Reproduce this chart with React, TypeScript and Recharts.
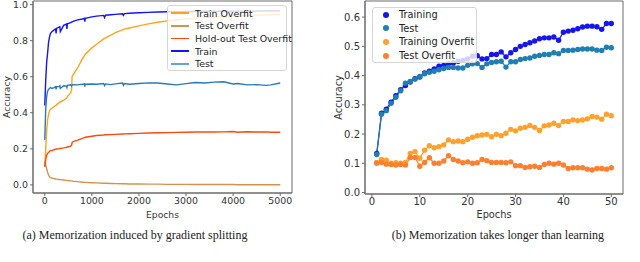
import { LineChart, Line, XAxis, YAxis, ReferenceArea, Legend } from 'recharts'

// (a) gradient splitting — sampled epochs, dips kept where the train/test curves spike
const EPOCHS_A = [
  0, 20, 40, 60, 80, 100, 120, 150, 200, 230, 240, 250, 300, 320, 330, 400, 460, 470, 480, 550,
  570, 580, 600, 700, 800, 840, 850, 860, 1000, 1100, 1250, 1270, 1290, 1400, 1500, 1650, 1670, 1690, 1800, 2000,
  2200, 2400, 2600, 2800, 3000, 3200, 3400, 3600, 3800, 4000, 4100, 4300, 4500, 4700, 4800, 5000,
]
const TRAIN_OVERFIT_A = [
  0.10, 0.20, 0.30, 0.36, 0.39, 0.41, 0.42, 0.425, 0.435, 0.44, 0.44, 0.445, 0.455, 0.46, 0.46, 0.47, 0.48, 0.485, 0.49, 0.51,
  0.53, 0.60, 0.61, 0.65, 0.70, 0.715, 0.72, 0.725, 0.76, 0.78, 0.81, 0.813, 0.816, 0.83, 0.845, 0.86, 0.862, 0.864, 0.87, 0.882,
  0.893, 0.902, 0.91, 0.916, 0.921, 0.925, 0.928, 0.931, 0.934, 0.937, 0.938, 0.94, 0.942, 0.943, 0.944, 0.945,
]
const TEST_OVERFIT_A = [
  0.13, 0.11, 0.09, 0.07, 0.055, 0.045, 0.04, 0.038, 0.035, 0.033, 0.033, 0.032, 0.03, 0.029, 0.029, 0.027, 0.025, 0.025, 0.024, 0.022,
  0.022, 0.021, 0.02, 0.018, 0.015, 0.014, 0.014, 0.014, 0.012, 0.011, 0.009, 0.009, 0.009, 0.008, 0.007, 0.006, 0.006, 0.006, 0.005, 0.005,
  0.004, 0.004, 0.003, 0.003, 0.003, 0.002, 0.002, 0.002, 0.002, 0.002, 0.001, 0.001, 0.001, 0.001, 0.001, 0.001,
]
const HOLDOUT_A = [
  0.10, 0.14, 0.165, 0.175, 0.18, 0.185, 0.19, 0.19, 0.195, 0.198, 0.198, 0.2, 0.2, 0.202, 0.202, 0.205, 0.208, 0.21, 0.21, 0.215,
  0.22, 0.235, 0.24, 0.248, 0.258, 0.262, 0.263, 0.264, 0.27, 0.274, 0.277, 0.278, 0.278, 0.279, 0.28, 0.282, 0.282, 0.283, 0.284, 0.286,
  0.288, 0.289, 0.29, 0.291, 0.292, 0.293, 0.294, 0.293, 0.294, 0.296, 0.292, 0.295, 0.293, 0.294, 0.292, 0.292,
]
const TRAIN_A = [
  0.44, 0.58, 0.68, 0.73, 0.79, 0.82, 0.84, 0.85, 0.86, 0.865, 0.84, 0.868, 0.875, 0.877, 0.85, 0.885, 0.892, 0.865, 0.894, 0.90,
  0.902, 0.905, 0.907, 0.915, 0.92, 0.923, 0.905, 0.924, 0.932, 0.936, 0.94, 0.928, 0.941, 0.944, 0.946, 0.949, 0.94, 0.95, 0.952, 0.955,
  0.957, 0.959, 0.96, 0.961, 0.962, 0.962, 0.963, 0.963, 0.963, 0.964, 0.964, 0.964, 0.964, 0.965, 0.965, 0.965,
]
const TEST_A = [
  0.25, 0.42, 0.49, 0.52, 0.53, 0.535, 0.54, 0.535, 0.54, 0.545, 0.53, 0.545, 0.545, 0.55, 0.535, 0.55, 0.548, 0.54, 0.552, 0.555,
  0.548, 0.555, 0.556, 0.555, 0.558, 0.56, 0.545, 0.558, 0.56, 0.558, 0.562, 0.55, 0.56, 0.556, 0.56, 0.565, 0.552, 0.562, 0.558, 0.562,
  0.566, 0.565, 0.56, 0.555, 0.562, 0.568, 0.565, 0.57, 0.572, 0.56, 0.562, 0.555, 0.556, 0.552, 0.555, 0.565,
]

// (b) memorization vs learning, one point per epoch
const EPOCHS_B = [
  1, 2, 3, 4, 5, 6, 7, 8, 9, 10, 11, 12, 13, 14, 15, 16, 17, 18, 19, 20, 21, 22, 23, 24, 25,
  26, 27, 28, 29, 30, 31, 32, 33, 34, 35, 36, 37, 38, 39, 40, 41, 42, 43, 44, 45, 46, 47, 48, 49, 50,
]
const TRAINING_B = [
  0.134, 0.271, 0.285, 0.309, 0.331, 0.352, 0.366, 0.378, 0.389, 0.395, 0.409, 0.415, 0.423, 0.432, 0.435, 0.441, 0.443, 0.449, 0.452, 0.457, 0.466, 0.468, 0.457, 0.458, 0.472,
  0.472, 0.481, 0.464, 0.478, 0.489, 0.5, 0.506, 0.512, 0.518, 0.526, 0.529, 0.529, 0.532, 0.521, 0.548, 0.552, 0.555, 0.56, 0.566, 0.569, 0.569, 0.567, 0.558, 0.578, 0.578,
]
const TEST_B = [
  0.13, 0.268, 0.28, 0.305, 0.326, 0.348, 0.374, 0.38, 0.388, 0.397, 0.406, 0.411, 0.415, 0.42, 0.424, 0.428, 0.428, 0.426, 0.426, 0.435, 0.44, 0.441, 0.428, 0.44, 0.445,
  0.447, 0.449, 0.429, 0.447, 0.447, 0.455, 0.458, 0.46, 0.466, 0.469, 0.472, 0.472, 0.478, 0.475, 0.486, 0.486, 0.487, 0.489, 0.491, 0.491, 0.491, 0.487, 0.486, 0.497, 0.495,
]
const TRAINING_OVERFIT_B = [
  0.103, 0.113, 0.111, 0.1, 0.102, 0.1, 0.103, 0.134, 0.14, 0.117, 0.145, 0.16, 0.153, 0.157, 0.163, 0.18, 0.174, 0.176, 0.174, 0.182, 0.189, 0.194, 0.197, 0.199, 0.191,
  0.199, 0.194, 0.203, 0.216, 0.211, 0.22, 0.223, 0.229, 0.223, 0.212, 0.228, 0.231, 0.237, 0.229, 0.243, 0.243, 0.248, 0.246, 0.248, 0.252, 0.26, 0.258, 0.251, 0.268, 0.263,
]
const TEST_OVERFIT_B = [
  0.1, 0.103, 0.097, 0.096, 0.094, 0.096, 0.094, 0.12, 0.12, 0.09, 0.103, 0.119, 0.1, 0.1, 0.108, 0.126, 0.113, 0.108, 0.102, 0.105, 0.1, 0.102, 0.113, 0.109, 0.103,
  0.103, 0.103, 0.102, 0.105, 0.092, 0.092, 0.086, 0.088, 0.09, 0.086, 0.096, 0.1, 0.097, 0.1, 0.094, 0.082, 0.085, 0.085, 0.085, 0.08, 0.077, 0.082, 0.082, 0.08, 0.085,
]

const X_TICKS_A = [0, 1000, 2000, 3000, 4000, 5000]
const Y_TICKS_A = [0, 0.2, 0.4, 0.6, 0.8, 1.0]
const X_TICKS_B = [0, 10, 20, 30, 40, 50]
const Y_TICKS_B = [0, 0.1, 0.2, 0.3, 0.4, 0.5, 0.6]

const LEGEND_A = [
  { key: 'trainOverfit', name: 'Train Overfit', color: '#ffa31a', swatch: '#ffa31a' },
  { key: 'testOverfit', name: 'Test Overfit', color: '#d6914f', swatch: '#d6914f' },
  { key: 'holdout', name: 'Hold-out Test Overfit', color: '#ff4a0a', swatch: '#ff4a0a' },
  { key: 'train', name: 'Train', color: '#1414f5', swatch: '#1414f5' },
  { key: 'test', name: 'Test', color: '#2a7ab8', swatch: '#64a3d8' },
]
const LEGEND_B = [
  { key: 'training', name: 'Training', color: '#1515f0' },
  { key: 'test', name: 'Test', color: '#1f7fb2' },
  { key: 'trainingOverfit', name: 'Training Overfit', color: '#ffa12a' },
  { key: 'testOverfit', name: 'Test Overfit', color: '#ff7f2e' },
]

const dataA = EPOCHS_A.map((epoch, i) => ({
  epoch,
  trainOverfit: TRAIN_OVERFIT_A[i],
  testOverfit: TEST_OVERFIT_A[i],
  holdout: HOLDOUT_A[i],
  train: TRAIN_A[i],
  test: TEST_A[i],
}))
const dataB = EPOCHS_B.map((epoch, i) => ({
  epoch,
  training: TRAINING_B[i],
  test: TEST_B[i],
  trainingOverfit: TRAINING_OVERFIT_B[i],
  testOverfit: TEST_OVERFIT_B[i],
}))

const SANS = '"DejaVu Sans", Verdana, sans-serif'
const FRAME = '#6a6a6a'
const TICK_A = { fontSize: 9.4, fill: '#333', fontFamily: SANS }
const TICK_B = { fontSize: 10, fill: '#333', fontFamily: SANS }
const LABEL_A = { fontSize: 9.2, fill: '#333', fontFamily: SANS }
const LABEL_B = { fontSize: 9.8, fill: '#333', fontFamily: SANS }
const LEGEND_BOX = {
  background: 'rgba(255,255,255,0.8)',
  border: '1px solid #d6d6d6',
  borderRadius: 3,
  boxSizing: 'border-box' as const,
  fontFamily: SANS,
  color: '#222',
  whiteSpace: 'nowrap' as const,
}

function LegendA() {
  return (
    <div style={{ ...LEGEND_BOX, width: 120, height: 66, padding: '1px 0 0 3px', fontSize: 9.4 }}>
      {LEGEND_A.map(l => (
        <div key={l.key} style={{ height: 12.6, display: 'flex', alignItems: 'center' }}>
          <span style={{ flex: 'none', width: 18, height: 1.8, background: l.swatch, marginRight: 6 }} />
          <span>{l.name}</span>
        </div>
      ))}
    </div>
  )
}

function LegendB() {
  return (
    <div style={{ ...LEGEND_BOX, width: 105, height: 56, padding: '0 0 0 10px', fontSize: 9.8 }}>
      {LEGEND_B.map(l => (
        <div key={l.key} style={{ height: 13.6, display: 'flex', alignItems: 'center' }}>
          <span style={{ flex: 'none', width: 6, height: 6, borderRadius: 3, background: l.color, marginRight: 10 }} />
          <span>{l.name}</span>
        </div>
      ))}
    </div>
  )
}

function ChartA() {
  return (
    <LineChart width={300} height={230} data={dataA} margin={{ top: 1, right: 8, left: 0, bottom: 0 }}>
      <XAxis
        dataKey="epoch" type="number" domain={[-250, 5250]} ticks={X_TICKS_A} allowDataOverflow
        height={37} tickSize={3} tickMargin={1} tick={TICK_A} stroke={FRAME}
        label={{ value: 'Epochs', position: 'insideBottom', offset: 12, style: LABEL_A }}
      />
      <YAxis
        type="number" domain={[-0.045, 1.02]} ticks={Y_TICKS_A} allowDataOverflow
        width={33} tickSize={3} tickMargin={2} tick={TICK_A} stroke={FRAME}
        tickFormatter={(v: number) => v.toFixed(1)}
        label={{ value: 'Accuracy', angle: -90, position: 'insideLeft', offset: 7, style: { ...LABEL_A, textAnchor: 'middle' } }}
      />
      <ReferenceArea x1={-250} x2={5250} y1={-0.045} y2={1.02} fill="none" stroke={FRAME} strokeWidth={1} />
      {LEGEND_A.map(l => (
        <Line key={l.key} dataKey={l.key} name={l.name} stroke={l.color} strokeWidth={1.4}
          dot={false} type="linear" isAnimationActive={false} />
      ))}
      <Legend layout="vertical" align="center" verticalAlign="middle"
        wrapperStyle={{ top: 5, left: 167, width: 120 }} content={() => <LegendA />} />
    </LineChart>
  )
}

function ChartB() {
  return (
    <LineChart width={320} height={230} data={dataB} margin={{ top: 1, right: 17, left: 0, bottom: 0 }}>
      <XAxis
        dataKey="epoch" type="number" domain={[-1.45, 52.45]} ticks={X_TICKS_B} allowDataOverflow
        height={36} tickSize={3} tickMargin={1} tick={TICK_B} stroke={FRAME}
        label={{ value: 'Epochs', position: 'insideBottom', offset: 12, style: LABEL_B }}
      />
      <YAxis
        type="number" domain={[-0.005, 0.655]} ticks={Y_TICKS_B} allowDataOverflow
        width={45} tickSize={3} tickMargin={2} tick={TICK_B} stroke={FRAME}
        tickFormatter={(v: number) => v.toFixed(1)}
        label={{ value: 'Accuracy', angle: -90, position: 'insideLeft', offset: 19, style: { ...LABEL_B, textAnchor: 'middle' } }}
      />
      <ReferenceArea x1={-1.45} x2={52.45} y1={-0.005} y2={0.655} fill="none" stroke={FRAME} strokeWidth={1} />
      {LEGEND_B.map(l => (
        <Line key={l.key} dataKey={l.key} name={l.name} stroke={l.color} strokeWidth={1.2}
          dot={{ r: 2.7, fill: l.color, stroke: l.color, strokeWidth: 0 }}
          type="linear" isAnimationActive={false} />
      ))}
      <Legend layout="vertical" align="center" verticalAlign="middle"
        wrapperStyle={{ top: 7, left: 52, width: 105 }} content={() => <LegendB />} />
    </LineChart>
  )
}

const CAPTION = {
  position: 'absolute' as const,
  top: 228,
  fontFamily: '"Liberation Serif", serif',
  fontSize: 12,
  color: '#222',
  whiteSpace: 'nowrap' as const,
  textAlign: 'center' as const,
}

export default function App() {
  return (
    <div style={{ position: 'absolute', left: 0, top: 0, width: 640, height: 262, background: '#fff', overflow: 'hidden' }}>
      <div style={{ position: 'absolute', left: 0, top: 0 }}><ChartA /></div>
      <div style={{ position: 'absolute', left: 320, top: 0 }}><ChartB /></div>
      <div style={{ ...CAPTION, left: 0, width: 270 }}>(a) Memorization induced by gradient splitting</div>
      <div style={{ ...CAPTION, left: 360, width: 276 }}>(b) Memorization takes longer than learning</div>
    </div>
  )
}
